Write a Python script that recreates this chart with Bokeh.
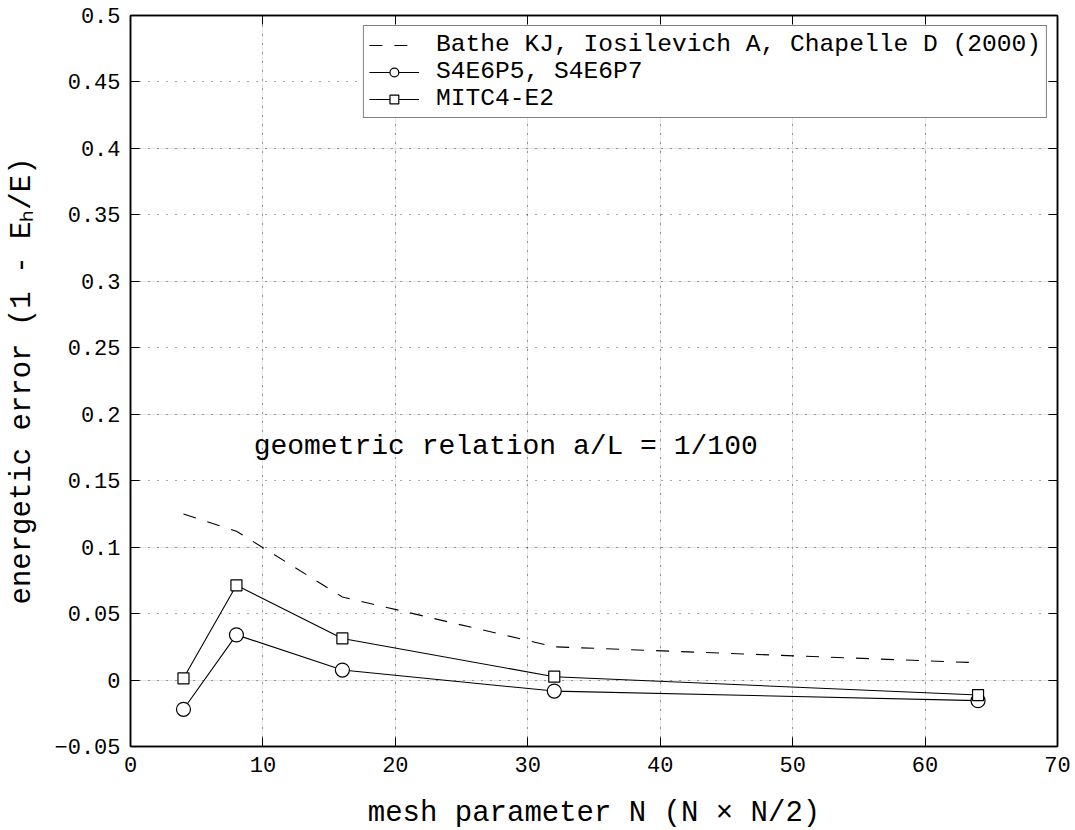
from bokeh.plotting import figure
from bokeh.models import (Range1d, FixedTicker, LinearAxis, Legend, LegendItem,
                          Label, ColumnDataSource, Grid)
from bokeh.embed import file_html
from bokeh.resources import INLINE

# ---------------- data ----------------
mesh_N = [4, 8, 16, 32, 64]
bathe_ref = [0.125, 0.112, 0.0625, 0.025, 0.013]
s4e6p5_p7 = [-0.022, 0.034, 0.0075, -0.0083, -0.0155]
mitc4_e2 = [0.0013, 0.0713, 0.0313, 0.0025, -0.0113]

series_names = ["Bathe KJ, Iosilevich A, Chapelle D (2000)",
                "S4E6P5, S4E6P7",
                "MITC4-E2"]

x_ticks = [0, 10, 20, 30, 40, 50, 60, 70]
x_tick_labels = ["0", "10", "20", "30", "40", "50", "60", "70"]
y_ticks = [-0.05, 0, 0.05, 0.1, 0.15, 0.2, 0.25, 0.3, 0.35, 0.4, 0.45, 0.5]
y_tick_labels = ["\u22120.05", "0", "0.05", "0.1", "0.15", "0.2", "0.25",
                 "0.3", "0.35", "0.4", "0.45", "0.5"]

annotation_text = "geometric relation a/L = 1/100"
annotation_pos = (9.3, 0.176)
x_label = "mesh parameter N (N \u00d7 N/2)"
y_label = "energetic error (1 - E\u2095/E)"

FONT = "Liberation Mono"

# ---------------- figure ----------------
p = figure(frame_width=927, frame_height=731,
           x_range=Range1d(0, 70), y_range=Range1d(-0.05, 0.5),
           x_axis_location=None, y_axis_location=None,
           output_backend="svg", toolbar_location=None,
           min_border_left=130, min_border_right=18,
           min_border_top=15, min_border_bottom=84,
           background_fill_color="white", border_fill_color="white")
p.outline_line_color = "black"
p.outline_line_width = 1.5


def make_axis(ticks, labels, show):
    ax = LinearAxis(ticker=FixedTicker(ticks=ticks))
    ax.major_tick_in = 9
    ax.major_tick_out = 0
    ax.major_tick_line_color = "black"
    ax.major_tick_line_width = 1
    ax.minor_tick_line_color = None
    ax.axis_line_color = "black"
    ax.axis_line_width = 1.5
    if show:
        ax.major_label_overrides = {t: l for t, l in zip(ticks, labels)}
        ax.major_label_text_font = FONT
        ax.major_label_text_font_size = "22px"
        ax.major_label_text_color = "black"
        ax.major_label_standoff = 10
        ax.axis_label_text_font = FONT
        ax.axis_label_text_font_size = "29px"
        ax.axis_label_text_font_style = "normal"
        ax.axis_label_text_color = "black"
    else:
        ax.major_label_text_color = None
        ax.major_label_standoff = 0
    return ax


ax_b = make_axis(x_ticks, x_tick_labels, True)
ax_b.axis_label = x_label
ax_b.axis_label_standoff = 22
ax_l = make_axis(y_ticks, y_tick_labels, True)
ax_l.axis_label = y_label
ax_l.axis_label_standoff = 12
ax_t = make_axis(x_ticks, x_tick_labels, False)
ax_r = make_axis(y_ticks, y_tick_labels, False)
p.add_layout(ax_b, "below")
p.add_layout(ax_l, "left")
p.add_layout(ax_t, "above")
p.add_layout(ax_r, "right")

for dim, ticks in ((0, x_ticks[1:-1]), (1, y_ticks[1:-1])):
    g = Grid(dimension=dim, ticker=FixedTicker(ticks=ticks))
    g.grid_line_color = "black"
    g.grid_line_alpha = 0.7
    g.grid_line_width = 1
    g.grid_line_dash = "1 8"
    p.add_layout(g)

src = ColumnDataSource(dict(N=mesh_N, bathe=bathe_ref, s4=s4e6p5_p7, mitc=mitc4_e2))

r_bathe = p.line("N", "bathe", source=src, line_color="black", line_width=1.1,
                 line_dash="13 12")
l_s4 = p.line("N", "s4", source=src, line_color="black", line_width=1.1)
m_s4 = p.scatter("N", "s4", source=src, marker="circle", size=14,
                 fill_color="white", line_color="black", line_width=1.2)
l_mi = p.line("N", "mitc", source=src, line_color="black", line_width=1.1)
m_mi = p.scatter("N", "mitc", source=src, marker="square", size=11,
                 fill_color="white", line_color="black", line_width=1.2)

legend = Legend(items=[
    LegendItem(label=series_names[0], renderers=[r_bathe]),
    LegendItem(label=series_names[1], renderers=[l_s4, m_s4]),
    LegendItem(label=series_names[2], renderers=[l_mi, m_mi]),
], location="top_right")
legend.margin = 10
legend.padding = 5
legend.spacing = 0
legend.glyph_width = 50
legend.glyph_height = 22
legend.label_height = 22
legend.label_standoff = 17
legend.label_text_font = FONT
legend.label_text_font_size = "24.6px"
legend.label_text_color = "black"
legend.border_line_color = "black"
legend.border_line_width = 1.5
legend.background_fill_color = "white"
legend.background_fill_alpha = 1
p.add_layout(legend)

p.add_layout(Label(x=annotation_pos[0], y=annotation_pos[1], text=annotation_text,
                   text_font=FONT, text_font_size="28px", text_color="black",
                   text_baseline="middle"))

open("out.html", "w").write(file_html(p, INLINE))
